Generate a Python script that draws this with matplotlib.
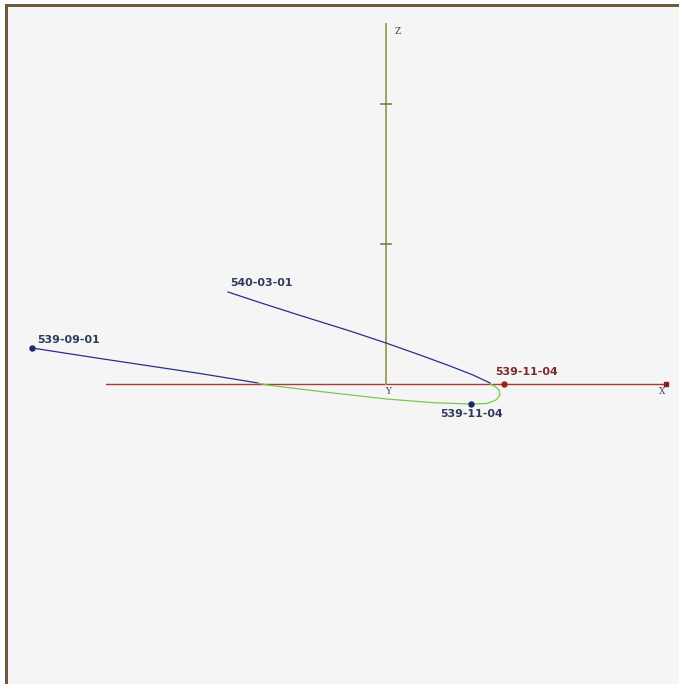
import matplotlib
matplotlib.use("Agg")
import matplotlib.pyplot as plt
import matplotlib.patches as mpatches
import numpy as np

# projected orbit, scene units (x to the right, z up, origin where the axes meet)
seg_start_x = [-354, -286, -236, -186, -128]
seg_start_z = [36, 25.5, 18, 10.5, 1]

seg_below_x = [-128, -119, -53, 1, 47, 84, 101, 110, 114, 113, 109, 104]
seg_below_z = [1, -1, -9, -15, -18.7, -20, -19.5, -16, -11, -6, -2.5, 0]

seg_end_x = [104, 87, 64, 34, 0, -36, -86, -126, -158]
seg_end_z = [1, 9, 18, 29, 41, 53, 68.6, 81.4, 92]

# labelled points
date_labels = ["539-09-01", "540-03-01", "539-11-04", "539-11-04"]
date_x = [-354, -158, 85, 118]
date_z = [36, 92, -20, 0]
date_dot = [True, False, True, True]

axis_len = 280
z_len = 360
z_ticks = [140, 280]

NAVY = "#2e2e86"
GREEN = "#7cc94a"
RED_AX = "#a83a3a"
OLIVE = "#9c9c5a"
DOT = "#1c2a66"
TXT = "#2c3a5c"
TXT_RED = "#7a2a2a"

W, H = 679, 684
fig = plt.figure(figsize=(W / 100, H / 100), dpi=100)
fig.patch.set_facecolor("white")
# panel with brown frame on top and left
fig.patches.append(mpatches.Rectangle((4.5 / W, 0), 1, 1 - 3.5 / H, transform=fig.transFigure,
                                      facecolor="#6e5b3f", edgecolor="none", zorder=-2))
fig.patches.append(mpatches.Rectangle((8 / W, 0), 1, 1 - 7 / H, transform=fig.transFigure,
                                      facecolor="#f5f5f5", edgecolor="none", zorder=-1))

ax = fig.add_axes([0, 0, 1, 1])
ax.set_xlim(-386, W - 386)
ax.set_ylim(384 - H, 384)
ax.axis("off")
ax.patch.set_alpha(0)

# axes of the 3d scene
ax.plot([-axis_len, axis_len], [0, 0], color=RED_AX, lw=1.0, zorder=2)
ax.plot([axis_len], [0], marker="s", ms=2.5, color="#8a1e1e", zorder=3)
ax.plot([0, 0], [0, z_len], color=OLIVE, lw=1.3, zorder=2)
for t in z_ticks:
    ax.plot([-5, 5], [t, t], color="#7c7c3a", lw=1.2, zorder=2)
ax.text(9, z_len - 7, "Z", fontsize=6.5, family="DejaVu Serif", color="#444444", ha="left", va="center")
ax.text(2, -8, "Y", fontsize=6.5, family="DejaVu Serif", color="#444466", ha="center", va="center")
ax.text(276, -8, "X", fontsize=6.5, family="DejaVu Serif", color="#444466", ha="center", va="center")

# orbit
ax.plot(seg_start_x, seg_start_z, color=NAVY, lw=0.9, zorder=4)
ax.plot(seg_below_x, seg_below_z, color=GREEN, lw=0.9, zorder=4)
ax.plot(seg_end_x, seg_end_z, color=NAVY, lw=0.9, zorder=4)

offsets = [(5, 8), (2, 9), (-31, -10), (-9, 12)]
colors = [DOT, DOT, DOT, "#a02020"]
tcolors = [TXT, TXT, TXT, TXT_RED]
for lab, x, z, dot, (dx, dz), c, tc in zip(date_labels, date_x, date_z, date_dot,
                                           offsets, colors, tcolors):
    if dot:
        ax.plot([x], [z], "o", ms=3.6, color=c, zorder=5)
    ax.text(x + dx, z + dz, lab, fontsize=7.9, fontweight="bold", color=tc,
            ha="left", va="center", zorder=6)

plt.savefig("out.png", dpi=100)
